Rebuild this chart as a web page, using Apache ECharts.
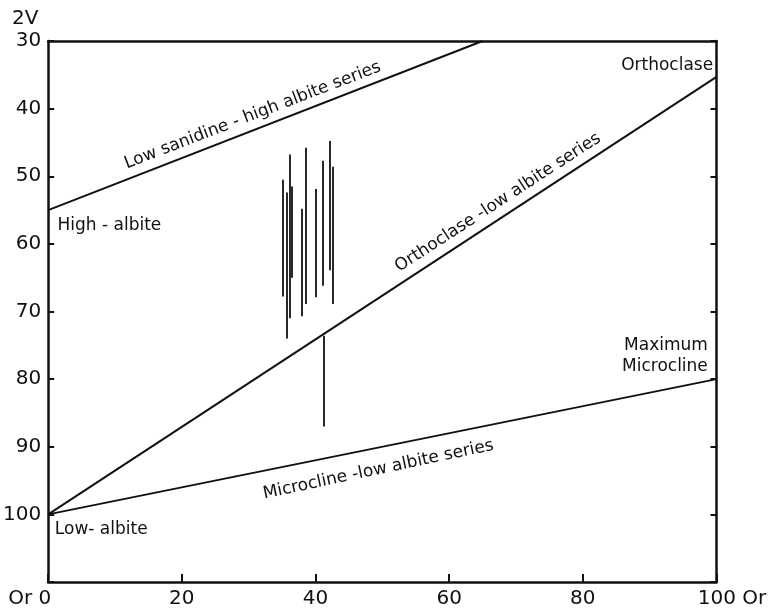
<!DOCTYPE html>
<html lang="en">
<head>
  <meta charset="UTF-8">
  <title>2V - Or</title>
  <style>
    body{
      margin: 0;
    }
    .chart{
      width: 772px;
      height: 613px;
      background: white;
    }
  </style>
</head>
<body>
<div class="chart"></div>
<script src="https://cdn.jsdelivr.net/npm/echarts@6/dist/echarts.min.js"></script>
<script>
  // trend lines, [Or, 2V]
  const sanidineLine = [[0, 55], [65, 30]];
  const orthoclaseLine = [[0, 100], [100, 35.3]];
  const microclineLine = [[0, 100], [100, 80]];

  // measured ranges of 2V (vertical bars)
  const sampleOr = [35.1, 35.65, 36.1, 36.4, 38.0, 38.5, 40.0, 41.1, 42.1, 42.6, 41.2];
  const sampleTop = [50.5, 52.4, 46.8, 51.5, 54.8, 45.8, 51.9, 47.7, 44.8, 48.6, 73.6];
  const sampleBottom = [67.8, 74.0, 71.0, 65.0, 70.7, 68.9, 67.9, 66.2, 63.9, 68.9, 87.0];

  const xTicks = [0, 20, 40, 60, 80, 100];
  const yTicks = [30, 40, 50, 60, 70, 80, 90, 100];

  const font = 'DejaVu Sans';
  const black = '#111';

  const container = document.querySelector('.chart');
  const instance = echarts.init(container);

  const frameLine = {show: true, onZero: false, lineStyle: {color: black, width: 2.5}};

  const option = {
    animation: false,
    grid: {left: 47.5, right: 55.5, top: 41, bottom: 31},
    xAxis: [
      {
        type: 'value',
        min: 0,
        max: 100,
        interval: 20,
        axisLine: frameLine,
        axisTick: {show: true, inside: true, length: 8, lineStyle: {color: black, width: 2}},
        splitLine: {show: false},
        axisLabel: {
          margin: 7,
          fontFamily: font,
          fontSize: 20,
          color: black,
          formatter(v){
            if (v === 0) return '{l|Or 0}';
            if (v === 100) return '{r|100 Or}';
            return xTicks.includes(v) ? String(v) : '';
          },
          rich: {
            l: {fontFamily: font, fontSize: 20, color: black, padding: [0, 37, 0, 0]},
            r: {fontFamily: font, fontSize: 20, color: black, padding: [0, 0, 0, 31]}
          }
        }
      },
      {
        type: 'value',
        position: 'top',
        min: 0,
        max: 100,
        axisLine: frameLine,
        axisTick: {show: false},
        axisLabel: {show: false},
        splitLine: {show: false}
      }
    ],
    yAxis: [
      {
        type: 'value',
        inverse: true,
        min: 30,
        max: 110,
        interval: 10,
        axisLine: frameLine,
        axisTick: {show: true, inside: true, length: 6, lineStyle: {color: black, width: 2}},
        splitLine: {show: false},
        axisLabel: {
          margin: 7,
          fontFamily: font,
          fontSize: 20,
          color: black,
          formatter(v){
            return yTicks.includes(v) ? String(v) : '';
          }
        }
      },
      {
        type: 'value',
        position: 'right',
        inverse: true,
        min: 30,
        max: 110,
        interval: 10,
        axisLine: frameLine,
        axisTick: {show: true, inside: true, length: 6, lineStyle: {color: black, width: 2}},
        axisLabel: {show: false},
        splitLine: {show: false}
      }
    ],
    series: [
      {
        type: 'line',
        data: sanidineLine,
        symbol: 'none',
        lineStyle: {color: black, width: 2}
      },
      {
        type: 'line',
        data: orthoclaseLine,
        symbol: 'none',
        lineStyle: {color: black, width: 2}
      },
      {
        type: 'line',
        data: microclineLine,
        symbol: 'none',
        lineStyle: {color: black, width: 2}
      },
      {
        type: 'lines',
        coordinateSystem: 'cartesian2d',
        lineStyle: {color: black, width: 1.8, opacity: 1},
        data: sampleOr.map((x, i) => {
          return {coords: [[x, sampleTop[i]], [x, sampleBottom[i]]]};
        })
      }
    ]
  };
  instance.setOption(option);

  // text notes placed in data space, then turned into pixels
  const notes = [
    {text: 'Low sanidine - high albite series', at: [30.6, 41.0], angle: 21, align: 'center'},
    {text: 'Orthoclase -low albite series', at: [67.3, 53.9], angle: 33, align: 'center'},
    {text: 'Microcline -low albite series', at: [49.4, 93.4], angle: 12, align: 'center'},
    {text: 'High - albite', at: [1.4, 57.3], angle: 0, align: 'left'},
    {text: 'Low- albite', at: [1.0, 102.3], angle: 0, align: 'left'},
    {text: 'Orthoclase', at: [99.5, 33.6], angle: 0, align: 'right'},
    {text: 'Maximum', at: [98.7, 75.1], angle: 0, align: 'right'},
    {text: 'Microcline', at: [98.7, 78.2], angle: 0, align: 'right'}
  ];

  const graphic = notes.map((n) => {
    const p = instance.convertToPixel({gridIndex: 0}, n.at);
    return {
      type: 'text',
      x: p[0],
      y: p[1],
      rotation: n.angle * Math.PI / 180,
      style: {
        text: n.text,
        font: '17px "' + font + '"',
        fill: black,
        textAlign: n.align,
        textVerticalAlign: 'middle'
      }
    };
  });
  graphic.push({
    type: 'text',
    left: 12,
    top: 9,
    style: {text: '2V', font: '20px "' + font + '"', fill: black}
  });
  instance.setOption({graphic: graphic});
</script>
</body>
</html>
